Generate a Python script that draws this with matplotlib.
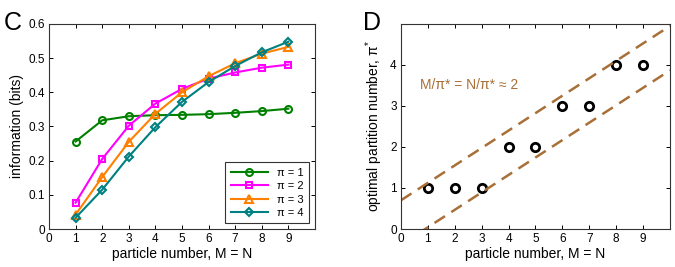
import matplotlib
matplotlib.use("Agg")
import matplotlib.pyplot as plt
import numpy as np

plt.rcParams['font.family'] = ['Liberation Sans', 'DejaVu Sans']
plt.rcParams['mathtext.fontset'] = 'custom'
plt.rcParams['mathtext.rm'] = 'Liberation Sans'

particles = [1, 2, 3, 4, 5, 6, 7, 8, 9]
info_pi1 = [0.256, 0.318, 0.330, 0.333, 0.334, 0.336, 0.340, 0.345, 0.352]
info_pi2 = [0.077, 0.205, 0.302, 0.367, 0.410, 0.440, 0.458, 0.472, 0.481]
info_pi3 = [0.042, 0.152, 0.255, 0.337, 0.400, 0.447, 0.485, 0.513, 0.533]
info_pi4 = [0.033, 0.115, 0.212, 0.298, 0.372, 0.430, 0.477, 0.517, 0.548]
series_labels = ['π = 1', 'π = 2', 'π = 3', 'π = 4']
opt_partition = [1, 1, 1, 2, 2, 3, 3, 4, 4]
band_slope = 0.425
band_upper_intercept = 0.7
band_lower_root = 0.9

fig = plt.figure(figsize=(6.75, 2.67), dpi=100)
ax1 = fig.add_axes([0.0726, 0.1423, 0.394, 0.768])
ax2 = fig.add_axes([0.594, 0.1423, 0.3985, 0.768])

colors = ['#008000', '#ff00ff', '#ff8000', '#008080']
markers = ['o', 's', '^', 'D']
msizes = [5, 5, 6, 4.5]
for ys, lab, c, m, ms in zip([info_pi1, info_pi2, info_pi3, info_pi4], series_labels, colors, markers, msizes):
    ax1.plot(particles, ys, color=c, marker=m, markersize=ms, markerfacecolor='none',
             markeredgewidth=1.5, linewidth=1.5, label=lab)

ax1.set_xlim(0, 10)
ax1.set_ylim(0, 0.6)
ax1.set_xticks(range(0, 10))
ax1.set_yticks([0, 0.1, 0.2, 0.3, 0.4, 0.5, 0.6])
ax1.set_yticklabels(['0', '0.1', '0.2', '0.3', '0.4', '0.5', '0.6'])
ax1.set_xlabel('particle number, M = N', fontsize=10, labelpad=1)
ax1.set_ylabel('information (bits)', fontsize=10, labelpad=3)
leg = ax1.legend(loc='lower right', fontsize=8, frameon=True, fancybox=False,
                 edgecolor='black', handlelength=3.4, borderaxespad=0.5, labelspacing=0.3,
                 borderpad=0.5)
leg.get_frame().set_linewidth(0.8)

ax2.plot(particles, opt_partition, linestyle='none', marker='o', markersize=6,
         markerfacecolor='none', markeredgecolor='black', markeredgewidth=2)
xx = np.array([0, 10])
ax2.plot(xx, band_upper_intercept + band_slope * xx, linestyle=(0, (5, 3)), color='#a87038', linewidth=1.8)
ax2.plot(xx, band_slope * (xx - band_lower_root), linestyle=(0, (5, 3)), color='#a87038', linewidth=1.8)
ax2.text(0.7, 3.5, 'M/π* = N/π* ≈ 2', color='#a87038', fontsize=10, va='center', ha='left')
ax2.set_xlim(0, 10)
ax2.set_ylim(0, 5)
ax2.set_xticks(range(0, 10))
ax2.set_yticks(range(0, 5))
ax2.set_xlabel('particle number, M = N', fontsize=10, labelpad=1)
ax2.set_ylabel('optimal partition number, π$^{*}$', fontsize=10, labelpad=4)

for ax in (ax1, ax2):
    ax.tick_params(direction='in', top=True, right=True, labelsize=8.5, length=3, width=0.7, pad=3)
    for s in ax.spines.values():
        s.set_linewidth(0.8)
        s.set_color('#333333')

fig.text(0.006, 0.915, 'C', fontsize=18, va='center', ha='left')
fig.text(0.538, 0.915, 'D', fontsize=18, va='center', ha='left')

fig.savefig('out.png', dpi=100)
